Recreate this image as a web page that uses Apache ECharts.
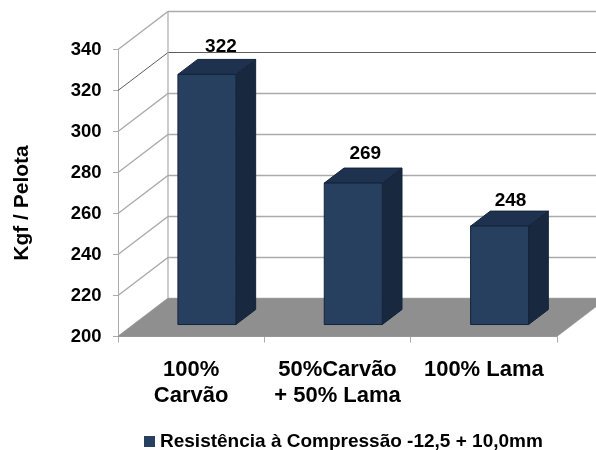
<!DOCTYPE html>
<html>
<head>
<meta charset="utf-8">
<style>html,body{margin:0;padding:0;background:#fff}#c{width:596px;height:450px}</style>
<script src="https://cdn.jsdelivr.net/npm/echarts@6/dist/echarts.min.js"></script>
</head>
<body>
<div id="c"></div>
<script>
const categories = ['100%\nCarvão', '50%Carvão\n+ 50% Lama', '100% Lama'];
const seriesName = 'Resistência à Compressão -12,5 + 10,0mm';
const values = [322, 269, 248];
const yTicks = [200, 220, 240, 260, 280, 300, 320, 340];
const labelNudge = [[14, -28], [12, -29], [11, -25]];

// Oblique projection used for the pseudo-3D box
const DEPTH = [50, -38];
const BAR_FRONT = 0.315;
const BAR_BACK = 0.71;
const BAR_WIDTH = 58;

const FONT = '"Liberation Sans", Arial, sans-serif';
const WALL = '#ababab';

function wallLine(params, api) {
  const cs = params.coordSys;
  const v = api.value(0);
  const y = api.coord([0, v])[1];
  const x0 = cs.x;
  const pts = [[x0, y], [x0 + DEPTH[0], y + DEPTH[1]], [x0 + cs.width + DEPTH[0], y + DEPTH[1]]];
  return {
    type: 'polyline',
    shape: { points: pts },
    style: { fill: null, stroke: v === 320 ? '#5c5c5c' : WALL, lineWidth: v === 320 ? 1 : 1.4 }
  };
}

function floorPlane(params, api) {
  const cs = params.coordSys;
  const yb = api.coord([0, yTicks[0]])[1];
  const yt = api.coord([0, yTicks[yTicks.length - 1]])[1];
  const xl = cs.x, xr = cs.x + cs.width;
  return {
    type: 'group',
    children: [
      {
        type: 'line',
        shape: { x1: xl + DEPTH[0], y1: yt + DEPTH[1], x2: xl + DEPTH[0], y2: yb + DEPTH[1] },
        style: { stroke: WALL, lineWidth: 1.2 }
      },
      {
        type: 'polygon',
        shape: { points: [[xl, yb], [xr, yb], [xr + DEPTH[0], yb + DEPTH[1]], [xl + DEPTH[0], yb + DEPTH[1]]] },
        style: { fill: '#8f8f8f', stroke: '#8f8f8f', lineWidth: 0.5 }
      }
    ]
  };
}

function bar3d(params, api) {
  const i = api.value(0);
  const v = api.value(1);
  const c = api.coord([i, v]);
  const base = api.coord([i, yTicks[0]]);
  const fx = DEPTH[0] * BAR_FRONT, fy = DEPTH[1] * BAR_FRONT;
  const bx = DEPTH[0] * BAR_BACK, by = DEPTH[1] * BAR_BACK;
  const l = c[0] - BAR_WIDTH / 2 + fx, r = l + BAR_WIDTH;
  const t = c[1] + fy, b = base[1] + fy;
  const ox = bx - fx, oy = by - fy;
  const edge = '#14233a';
  const nudge = labelNudge[i];
  return {
    type: 'group',
    children: [
      {
        type: 'polygon',
        shape: { points: [[r, t], [r + ox, t + oy], [r + ox, b + oy], [r, b]] },
        style: { fill: '#18293f', stroke: edge, lineWidth: 1 }
      },
      {
        type: 'polygon',
        shape: { points: [[l, t], [l + ox, t + oy], [r + ox, t + oy], [r, t]] },
        style: { fill: '#1e3250', stroke: edge, lineWidth: 1 }
      },
      {
        type: 'rect',
        shape: { x: l, y: t, width: BAR_WIDTH, height: b - t },
        style: { fill: '#27405f', stroke: edge, lineWidth: 1 }
      },
      {
        type: 'text',
        style: {
          x: (l + r) / 2 + nudge[0], y: t + nudge[1],
          text: String(v), align: 'center', verticalAlign: 'middle',
          font: 'bold 19px ' + FONT, fill: '#000'
        }
      }
    ]
  };
}

const chart = echarts.init(document.getElementById('c'), null, { renderer: 'canvas' });
chart.setOption({
  animation: false,
  backgroundColor: '#fff',
  grid: { left: 118, right: 39, top: 49.5, bottom: 113.5, containLabel: false },
  legend: {
    data: [seriesName],
    left: 144,
    top: 432,
    padding: 0,
    itemWidth: 11,
    itemHeight: 11,
    itemGap: 5,
    icon: 'rect',
    textStyle: { fontFamily: FONT, fontWeight: 'bold', fontSize: 19, color: '#000', padding: [0, 0, 0, 0] }
  },
  xAxis: {
    type: 'category',
    data: categories,
    axisLine: { lineStyle: { color: WALL, width: 1 } },
    axisTick: { show: true, length: 6, lineStyle: { color: WALL } },
    axisLabel: {
      interval: 0, margin: 20.5, color: '#000',
      fontFamily: FONT, fontWeight: 'bold', fontSize: 22, lineHeight: 26
    }
  },
  yAxis: {
    type: 'value',
    min: 200,
    max: 340,
    interval: 20,
    splitLine: { show: false },
    axisLine: { show: true, lineStyle: { color: WALL, width: 1 } },
    axisTick: { show: true, length: 5, lineStyle: { color: WALL } },
    axisLabel: { margin: 16.5, color: '#000', fontFamily: FONT, fontWeight: 'bold', fontSize: 18.5, padding: [4, 0, 0, 0] }
  },
  graphic: [{
    type: 'text',
    x: 22,
    y: 203,
    rotation: Math.PI / 2,
    style: {
      text: 'Kgf / Pelota', align: 'center', verticalAlign: 'middle',
      font: 'bold 21px ' + FONT, fill: '#000'
    }
  }],
  series: [
    { type: 'custom', name: 'walls', silent: true, z: 1, renderItem: wallLine, data: yTicks.map(v => [v]) },
    { type: 'custom', name: 'floor', silent: true, z: 2, renderItem: floorPlane, data: [[yTicks[0]]] },
    {
      type: 'custom',
      name: seriesName,
      z: 3,
      itemStyle: { color: '#27405f' },
      renderItem: bar3d,
      encode: { x: 0, y: 1 },
      data: values.map((v, i) => [i, v])
    }
  ]
});
</script>
</body>
</html>
